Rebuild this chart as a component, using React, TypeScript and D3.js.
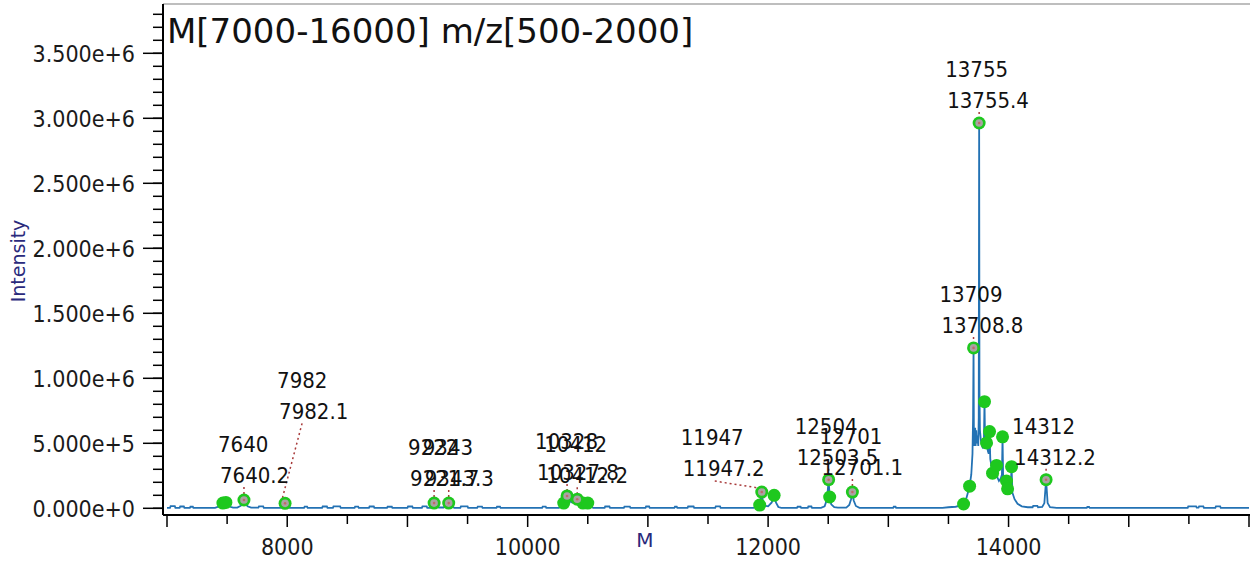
import React from 'react';
import * as d3 from 'd3';

// Deconvoluted mass spectrum: [mass (Da), intensity]
const spectrum: [number, number][] = [
  [7000, 3000], [7025, 3000], [7030, 16000], [7065, 16000], [7070, 3000],
  [7105, 3000], [7110, 14000], [7140, 14000], [7145, 3000],
  [7190, 3000], [7195, 12000], [7215, 12000], [7220, 3000],
  [7400, 3000], [7430, 14000], [7450, 34000], [7465, 40000], [7478, 36000], [7490, 45000], [7505, 30000], [7525, 12000], [7550, 5000],
  [7585, 5000], [7615, 20000], [7630, 48000], [7640.2, 64000], [7652, 40000], [7670, 16000], [7700, 5000],
  [7760, 5000], [7765, 15000], [7800, 15000], [7805, 4000],
  [7950, 4000], [7968, 18000], [7982.1, 38000], [7996, 18000], [8015, 3000],
  [8140, 3000], [8145, 13000], [8165, 13000], [8170, 3000],
  [8290, 3000], [8295, 14000], [8330, 14000], [8335, 3000],
  [8380, 3000], [8385, 15000], [8440, 15000], [8445, 3000],
  [8560, 3000], [8565, 13000], [8590, 13000], [8595, 3000],
  [8680, 3000], [8685, 14000], [8720, 14000], [8725, 3000],
  [8830, 3000], [8835, 12000], [8870, 12000], [8875, 3000],
  [9000, 3000], [9005, 14000], [9040, 14000], [9045, 3000],
  [9120, 3000], [9125, 15000], [9160, 15000], [9165, 3000],
  [9190, 4000], [9210, 28000], [9221.7, 40000], [9235, 20000], [9260, 6000],
  [9300, 6000], [9325, 25000], [9343.3, 40000], [9360, 20000], [9390, 4000],
  [9440, 3000], [9445, 15000], [9500, 15000], [9505, 3000],
  [9580, 3000], [9585, 13000], [9620, 13000], [9625, 3000],
  [9740, 3000], [9745, 12000], [9770, 12000], [9775, 3000],
  [10120, 3000], [10125, 13000], [10150, 13000], [10155, 3000],
  [10260, 4000], [10285, 25000], [10300, 40000], [10315, 60000], [10327.8, 95000], [10345, 55000],
  [10370, 45000], [10395, 50000], [10412.2, 70000], [10430, 45000], [10460, 40000], [10480, 30000],
  [10500, 40000], [10520, 15000], [10545, 4000],
  [10640, 3000], [10645, 14000], [10680, 14000], [10685, 3000],
  [10800, 3000], [10805, 13000], [10850, 13000], [10855, 3000],
  [10980, 3000], [10985, 14000], [11010, 14000], [11015, 3000],
  [11220, 3000], [11225, 12000], [11240, 12000], [11245, 3000],
  [11330, 3000], [11335, 14000], [11380, 14000], [11385, 3000],
  [11560, 3000], [11565, 15000], [11600, 15000], [11605, 3000],
  [11880, 4000], [11915, 15000], [11930, 25000], [11940, 80000], [11947.2, 125000], [11955, 60000],
  [11970, 20000], [12000, 15000], [12030, 45000], [12050, 100000], [12065, 45000], [12085, 10000], [12110, 4000],
  [12240, 3000], [12245, 12000], [12270, 12000], [12275, 3000],
  [12330, 3000], [12335, 14000], [12360, 14000], [12365, 3000],
  [12440, 4000], [12470, 15000], [12490, 70000], [12503.5, 220000], [12512, 87000], [12525, 30000],
  [12550, 8000], [12580, 5000],
  [12650, 5000], [12675, 25000], [12690, 70000], [12701.1, 125000], [12712, 60000], [12730, 18000], [12760, 4000],
  [13040, 3000], [13045, 12000], [13060, 12000], [13065, 3000],
  [13450, 4000], [13500, 8000], [13560, 12000], [13600, 20000], [13626, 33000], [13650, 80000],
  [13676, 170000], [13690, 260000], [13700, 420000], [13705, 700000], [13708.8, 1234000], [13712, 480000],
  [13718, 520000], [13722, 620000], [13726, 480000], [13731, 600000], [13736, 500000], [13742, 560000],
  [13748, 480000], [13752, 700000], [13755.4, 2964000], [13758, 900000], [13762, 600000], [13770, 520000],
  [13780, 480000], [13788, 460000], [13795, 520000], [13800, 820000], [13805, 480000], [13817, 503000],
  [13828, 440000], [13835, 420000], [13842, 590000], [13848, 380000], [13858, 320000], [13867, 270000],
  [13880, 240000], [13893, 250000], [13900, 330000], [13906, 240000], [13920, 210000], [13935, 230000],
  [13945, 260000], [13950, 550000], [13955, 230000], [13970, 200000], [13983, 210000], [13992, 150000],
  [14005, 130000], [14018, 160000], [14025, 320000], [14032, 120000], [14050, 70000], [14075, 35000],
  [14110, 15000], [14160, 8000], [14200, 8000], [14205, 18000], [14240, 18000], [14245, 8000],
  [14280, 10000], [14298, 40000], [14312.2, 220000], [14325, 40000], [14345, 8000], [14400, 3000],
  [14650, 3000], [14655, 10000], [14670, 10000], [14675, 3000],
  [15490, 3000], [15495, 15000], [15560, 15000], [15565, 5000], [15580, 5000], [15585, 15000],
  [15620, 15000], [15625, 3000], [15720, 3000], [15725, 15000], [15760, 15000], [15765, 3000],
  [16000, 3000],
];

// Annotated peaks
const labeledMass = [7640.2, 7982.1, 9221.7, 9343.3, 10327.8, 10412.2, 11947.2, 12503.5, 12701.1, 13708.8, 13755.4, 14312.2];
const labeledIntensity = [64000, 38000, 40000, 40000, 95000, 70000, 125000, 220000, 125000, 1234000, 2964000, 220000];

// Other detected peaks
const peakMass = [7465, 7490, 10300, 10460, 10500, 11930, 12050, 12512, 13626, 13676, 13800, 13817, 13842, 13867, 13900, 13950, 13983, 13992, 14025];
const peakIntensity = [40000, 45000, 40000, 40000, 40000, 25000, 100000, 87000, 33000, 170000, 820000, 503000, 590000, 270000, 330000, 550000, 210000, 150000, 320000];

// Axis ticks
const yTickValues = [0, 500000, 1000000, 1500000, 2000000, 2500000, 3000000, 3500000];
const xTickValues = [8000, 10000, 12000, 14000];

// Label placement offsets (px) from each annotated peak; lead = start of the leader line
const labelPlacement: { dx: number; dy: number; lead?: [number, number] }[] = [
  { dx: -24, dy: -17 },
  { dx: -6, dy: -84, lead: [17, -80] },
  { dx: -24, dy: -17 },
  { dx: -24, dy: -17 },
  { dx: -30, dy: -16 },
  { dx: -31, dy: -16 },
  { dx: -79, dy: -16, lead: [-47, -11] },
  { dx: -32, dy: -15 },
  { dx: -31, dy: -17 },
  { dx: -32, dy: -15 },
  { dx: -32, dy: -15 },
  { dx: -32, dy: -15 },
];

const W = 1253;
const H = 563;
const LEFT = 163;
const RIGHT = 1250;
const TOP = 4;
const AXIS_Y = 515;

const TICK_FONT = '"DejaVu Sans Condensed", "Liberation Sans", Arial, sans-serif';
const WIDE_FONT = '"DejaVu Sans", Verdana, sans-serif';

export default function App() {
  const x = d3.scaleLinear().domain([7000, 16000]).range([167, 1249]);
  const y = d3.scaleLinear().domain([0, 3500000]).range([508.3, 53.3]);

  const line = d3
    .line<[number, number]>()
    .x((d) => x(d[0]))
    .y((d) => y(d[1]));

  const yMinor = d3.range(0, 3800001, 100000);
  const xMinor = d3.range(7000, 16001, 500);

  const fmtY = (v: number) => {
    if (v === 0) return '0.000e+0';
    const e = Math.floor(Math.log10(v));
    return (v / Math.pow(10, e)).toFixed(3) + 'e+' + e;
  };

  return (
    <svg width={W} height={H} style={{ position: 'absolute', left: 0, top: 0, background: '#fff' }}>
      <defs>
        <clipPath id="plot-clip">
          <rect x={LEFT} y={TOP} width={RIGHT - LEFT} height={AXIS_Y - TOP} />
        </clipPath>
      </defs>
      <rect x={0} y={0} width={W} height={H} fill="#fff" />

      {/* plot frame */}
      <line x1={LEFT} x2={RIGHT} y1={TOP} y2={TOP} stroke="#a8a8a8" strokeWidth={1.5} />

      {/* title */}
      <text x={167} y={43} fontFamily={WIDE_FONT} fontSize={34} fill="#111">
        M[7000-16000] m/z[500-2000]
      </text>

      {/* spectrum */}
      <path d={line(spectrum) || ''} fill="none" stroke="#2372b4" strokeWidth={1.8} clipPath="url(#plot-clip)" />

      {/* y axis */}
      <line x1={LEFT} x2={LEFT} y1={TOP} y2={AXIS_Y} stroke="#000" strokeWidth={2} />
      {yMinor.map((v) => (
        <line key={'ym' + v} x1={LEFT - 10} x2={LEFT} y1={y(v)} y2={y(v)} stroke="#000" strokeWidth={1.5} />
      ))}
      {yTickValues.map((v) => (
        <g key={'yt' + v}>
          <line x1={LEFT - 20} x2={LEFT} y1={y(v)} y2={y(v)} stroke="#000" strokeWidth={1.5} />
          <text x={135} y={y(v) + 8.5} textAnchor="end" fontFamily={TICK_FONT} fontSize={23} fill="#1a1a1a">
            {fmtY(v)}
          </text>
        </g>
      ))}
      <text
        transform={`translate(25, 261) rotate(-90)`}
        textAnchor="middle"
        fontFamily={WIDE_FONT}
        fontSize={19}
        fill="#2a2a7c"
      >
        Intensity
      </text>

      {/* x axis */}
      <line x1={LEFT} x2={RIGHT} y1={AXIS_Y} y2={AXIS_Y} stroke="#000" strokeWidth={2} />
      {xMinor.map((v) => (
        <line key={'xm' + v} x1={x(v)} x2={x(v)} y1={AXIS_Y} y2={AXIS_Y + (v % 1000 === 0 ? 12 : 9)} stroke="#000" strokeWidth={1.5} />
      ))}
      {xTickValues.map((v) => (
        <text key={'xt' + v} x={x(v)} y={555} textAnchor="middle" fontFamily={TICK_FONT} fontSize={23} fill="#1a1a1a">
          {v}
        </text>
      ))}
      <text x={645} y={547} textAnchor="middle" fontFamily={WIDE_FONT} fontSize={20} fill="#2a2a7c">
        M
      </text>

      {/* leader lines */}
      {labeledMass.map((m, i) => {
        const px = x(m);
        const py = y(labeledIntensity[i]);
        const p = labelPlacement[i];
        const start = p.lead ? [px + p.lead[0], py + p.lead[1]] : [px, py + p.dy + 4];
        const end = p.lead ? [px - 3, py - 4] : [px, py - 5];
        return (
          <line
            key={'ld' + m}
            x1={start[0]}
            y1={start[1]}
            x2={end[0]}
            y2={end[1]}
            stroke="#a83a3a"
            strokeWidth={1.5}
            strokeDasharray="2,3"
          />
        );
      })}

      {/* detected peak markers */}
      {peakMass.map((m, i) => (
        <circle key={'pk' + m} cx={x(m)} cy={y(peakIntensity[i])} r={6.5} fill="#1ec81e" />
      ))}
      {labeledMass.map((m, i) => (
        <g key={'lp' + m}>
          <circle cx={x(m)} cy={y(labeledIntensity[i])} r={6.5} fill="#1ec81e" />
          <circle cx={x(m)} cy={y(labeledIntensity[i])} r={3.8} fill="#a9a3a3" />
          <circle cx={x(m)} cy={y(labeledIntensity[i])} r={1.3} fill="#c06a6a" />
        </g>
      ))}

      {/* peak annotations */}
      {labeledMass.map((m, i) => {
        const px = x(m);
        const py = y(labeledIntensity[i]);
        const p = labelPlacement[i];
        return (
          <g key={'lb' + m} fontFamily={TICK_FONT} fontSize={22} fill="#111">
            <text x={px + p.dx - 2} y={py + p.dy - 31}>{String(Math.round(m))}</text>
            <text x={px + p.dx} y={py + p.dy}>{m.toFixed(1)}</text>
          </g>
        );
      })}
    </svg>
  );
}
